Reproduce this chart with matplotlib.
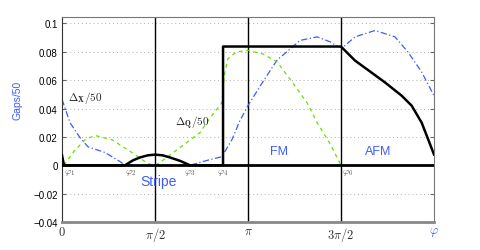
import numpy as np
import matplotlib
matplotlib.use("Agg")
import matplotlib.pyplot as plt

plt.rcParams['mathtext.fontset'] = 'cm'
plt.rcParams['font.family'] = ['Liberation Sans', 'DejaVu Sans']

PI = np.pi
# black: spectral gap / 50
gap_x = [0.0, 0.034, 1.064, 1.20, 1.317, 1.45, 1.571, 1.70, 1.824, 2.0, 2.16, 2.72,
         2.7201, 4.712, 4.836, 4.949, 5.173, 5.455, 5.738, 5.906, 6.075, 6.187, 6.283]
gap_y = [0.007, 0.0, 0.0, 0.0035, 0.0055, 0.007, 0.0075, 0.007, 0.0055, 0.003, 0.0, 0.0,
         0.0837, 0.0837, 0.0785, 0.0738, 0.067, 0.0584, 0.049, 0.042, 0.030, 0.018, 0.0076]
# green dashed: Delta_Q / 50
dq_x = [0.034, 0.20, 0.389, 0.557, 0.845, 1.18, 1.42, 1.537, 1.571, 1.655, 1.993, 2.33,
        2.53, 2.70, 2.74, 2.80, 2.95, 3.14, 3.39, 3.63, 3.90, 4.14, 4.31, 4.53, 4.712, 6.283]
dq_y = [0.0, 0.0097, 0.018, 0.021, 0.018, 0.009, 0.002, 0.0, 0.0, 0.002, 0.0125, 0.023,
        0.035, 0.044, 0.063, 0.075, 0.080, 0.081, 0.0785, 0.073, 0.058, 0.044, 0.030, 0.015, 0.0, 0.0]
# blue dash-dot: Delta_X / 50
dx_x = [0.0, 0.135, 0.304, 0.439, 0.726, 0.98, 1.064, 2.16, 2.50, 2.70, 2.87, 3.00,
        3.14, 3.38, 3.63, 4.02, 4.31, 4.53, 4.66, 4.74, 4.949, 5.287, 5.624, 5.844, 6.075, 6.283]
dx_y = [0.0465, 0.030, 0.0195, 0.013, 0.009, 0.0026, 0.0, 0.0, 0.004, 0.006, 0.018, 0.031,
        0.042, 0.058, 0.074, 0.088, 0.0905, 0.087, 0.0837, 0.083, 0.0905, 0.095, 0.0905, 0.0798, 0.0657, 0.049]

xticks = [0, PI/2, PI, 3*PI/2, 2*PI]
xticklabels = [r'$0$', r'$\pi/2$', r'$\pi$', r'$3\pi/2$', r'$\varphi$']
yticks = [-0.04, -0.02, 0, 0.02, 0.04, 0.06, 0.08, 0.1]
yticklabels = ['\u22120.04', '\u22120.02', '0', '0.02', '0.04', '0.06', '0.08', '0.1']

phi_names = [r'$\varphi_1$', r'$\varphi_2$', r'$\varphi_3$', r'$\varphi_4$', r'$\varphi_6$']
phi_pos = [0.03, 1.06, 2.16, 2.72, 4.73]
phi_ha = ['left', 'left', 'center', 'center', 'left']

fig = plt.figure(figsize=(4.8, 2.51), dpi=100)
ax = fig.add_axes([62/480, 1-223/251, 372/480, (223-18.3)/251])
blue = '#3d5cff'

ax.set_xlim(0, 2*PI)
ax.set_ylim(-0.04, 0.1043)
for y in yticks:
    ax.axhline(y, color='#b0b0b0', lw=0.7, ls=(0, (1, 3)), zorder=0)
for x in xticks[1:4]:
    ax.axvline(x, color='black', lw=1.0, zorder=1)

ax.plot(dx_x, dx_y, color=blue, lw=0.9, ls=(0, (5, 2, 1, 2)), zorder=2)
ax.plot(dq_x, dq_y, color='#66e000', lw=0.9, ls=(0, (3, 3)), zorder=2)
ax.axhline(0, color='black', lw=2.0, zorder=3)
ax.plot(gap_x, gap_y, color='black', lw=1.8, zorder=4)

ax.set_xticks(xticks)
ax.set_xticklabels(xticklabels, fontsize=9, color='#333333')
ax.get_xticklabels()[-1].set_color(blue)
ax.set_yticks(yticks)
ax.set_yticklabels(yticklabels, fontsize=7)
ax.tick_params(axis='x', length=0, pad=2)
ax.tick_params(axis='y', direction='in', length=3, right=True, pad=3, color='#666666')

for s in ['top', 'right']:
    ax.spines[s].set_color('#777777')
    ax.spines[s].set_linewidth(0.8)
ax.spines['left'].set_color('#333333')
ax.spines['left'].set_linewidth(0.8)
ax.spines['bottom'].set_color('#888888')
ax.spines['bottom'].set_linewidth(2.0)

ax.set_ylabel('Gaps/50', color=blue, fontsize=7.5)
ax.yaxis.set_label_coords(-0.105, 0.6)

ax.text(0.10, 0.0484, r'$\Delta_{\mathbf{X}}/50$', fontsize=8, va='center', ha='left', color='#222222')
ax.text(1.91, 0.030, r'$\Delta_{\mathbf{Q}}/50$', fontsize=8, va='center', ha='left', color='#222222')
ax.text(1.63, -0.0109, 'Stripe', fontsize=10, color=blue, ha='center', va='center')
ax.text(3.665, 0.0097, 'FM', fontsize=9, color=blue, ha='center', va='center')
ax.text(5.346, 0.0097, 'AFM', fontsize=9, color=blue, ha='center', va='center')
for name, p, ha in zip(phi_names, phi_pos, phi_ha):
    ax.text(p, -0.0015, name, fontsize=7, color='#555555', ha=ha, va='top')

fig.savefig('out.png', dpi=100)
